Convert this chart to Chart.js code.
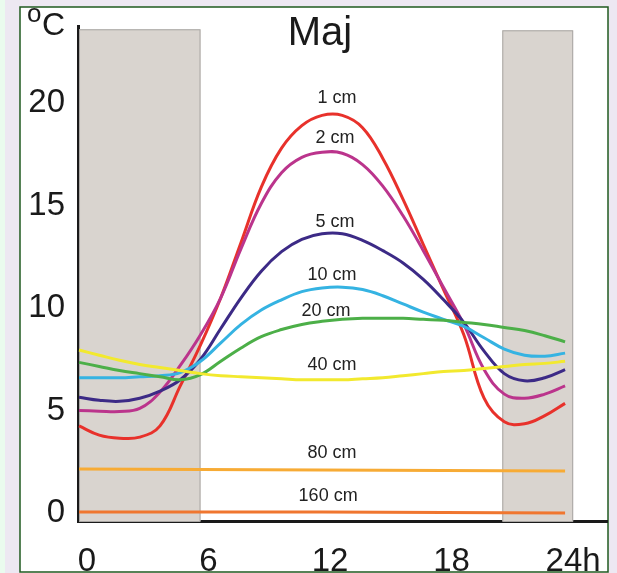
<!DOCTYPE html>
<html><head><meta charset="utf-8">
<script src="https://cdn.jsdelivr.net/npm/chart.js@4"></script>
<style>html,body{margin:0;padding:0;background:#ede8f2;overflow:hidden}canvas{display:block}</style>
</head><body>
<canvas id="c" width="617" height="573"></canvas>
<script>
// ---- data ----
const hours = [0,1,2,3,4,5,6,7,8,9,10,11,12,13,14,15,16,17,18,19,20,21,22,23,24];
const t1cm  = [4.25,3.8,3.65,3.7,4.25,6.2,8.2,10.5,13.2,15.9,17.8,18.9,19.4,19.4,18.8,17.3,15.3,13.1,10.9,8.7,5.6,4.45,4.35,4.75,5.35];
const t2cm  = [5.0,4.97,4.95,5.1,5.9,7.2,8.7,10.5,12.9,15.1,16.6,17.35,17.6,17.55,17.0,15.95,14.5,12.8,11.0,9.2,7.0,5.8,5.6,5.8,6.2];
const t5cm  = [5.65,5.5,5.45,5.6,5.95,6.5,7.5,9.0,10.5,11.8,12.75,13.35,13.62,13.62,13.3,12.8,12.2,11.4,10.4,9.3,7.9,6.8,6.45,6.6,7.0];
const t10cm = [6.6,6.6,6.6,6.65,6.7,6.85,7.4,8.3,9.2,9.9,10.4,10.8,10.98,11.02,10.9,10.6,10.2,9.8,9.45,9.1,8.55,8.0,7.7,7.65,7.8];
const t20cm = [7.35,7.15,6.95,6.8,6.65,6.5,6.75,7.4,8.05,8.6,8.95,9.2,9.35,9.45,9.5,9.5,9.5,9.45,9.4,9.3,9.2,9.05,8.9,8.65,8.35];
const t40cm = [7.95,7.7,7.45,7.25,7.1,6.95,6.8,6.7,6.65,6.6,6.55,6.5,6.5,6.5,6.55,6.6,6.7,6.8,6.9,6.95,7.05,7.15,7.25,7.3,7.4];
const deepHours = [0,12,24];
const t80cm  = [2.15,2.1,2.05];
const t160cm = [0.05,0.05,0.0];
const seriesNames = ['1 cm','2 cm','5 cm','10 cm','20 cm','40 cm','80 cm','160 cm'];
const xTicks = [0,6,12,18,24];
const xTickLabels = ['0','6','12','18','24h'];
const yTicks = [0,5,10,15,20];
const nightStart = [0,20.9];
const nightEnd   = [6,24.4];
const nightTop   = [23.6,23.55];

// ---- styling ----
const colors = ['#e8312b','#bb348c','#3c2a86','#35b3e2','#4caf48','#f2e92e','#f7ab35','#f0762f'];
const labelPos = [[12.74,20.24],[12.64,18.29],[12.64,14.2],[12.49,11.61],[12.2,9.85],[12.49,7.22],[12.49,2.93],[12.3,0.83]];
const FONT = "'Liberation Sans', Arial, sans-serif";

const toXY = (xs, ys) => xs.map((x,i)=>({x, y: ys[i]}));
const allSeries = [
  toXY(hours,t1cm), toXY(hours,t2cm), toXY(hours,t5cm), toXY(hours,t10cm),
  toXY(hours,t20cm), toXY(hours,t40cm), toXY(deepHours,t80cm), toXY(deepHours,t160cm)
];
const order = [7,6,5,4,3,2,1,0];
const datasets = order.map(i => ({
  label: seriesNames[i], data: allSeries[i], borderColor: colors[i],
  borderWidth: 3, pointRadius: 0, tension: 0.4, fill: false
}));

const bgPlugin = {
  id: 'bg',
  beforeDraw(chart) {
    const ctx = chart.ctx;
    ctx.save();
    ctx.fillStyle = '#ede8f2'; ctx.fillRect(0,0,617,573);
    ctx.fillStyle = '#eafbee'; ctx.fillRect(0,0,5,573);
    ctx.fillStyle = '#ffffff'; ctx.fillRect(20,7,588,570);
    ctx.strokeStyle = '#1f5a1f'; ctx.lineWidth = 1.5;
    ctx.strokeRect(20,7,588,565);
    ctx.restore();
  },
  beforeDatasetsDraw(chart) {
    const {ctx, scales:{x,y}} = chart;
    ctx.save();
    for (let i=0;i<nightStart.length;i++){
      const x0 = x.getPixelForValue(nightStart[i]), x1 = x.getPixelForValue(nightEnd[i]);
      const y0 = y.getPixelForValue(nightTop[i]), y1 = chart.chartArea.bottom;
      ctx.fillStyle = '#d9d4cf'; ctx.fillRect(x0,y0,x1-x0,y1-y0);
      ctx.strokeStyle = '#a9a6a3'; ctx.lineWidth = 1;
      ctx.strokeRect(x0+0.5,y0+0.5,x1-x0-1,y1-y0);
    }
    ctx.restore();
  },
  afterDraw(chart) {
    const {ctx, scales:{x,y}} = chart;
    ctx.save();
    ctx.fillStyle = '#1a1a1a';
    ctx.textBaseline = 'alphabetic';
    ctx.textAlign = 'center';
    ctx.font = '40px ' + FONT;
    ctx.fillText('Maj', 320, 45);
    ctx.textAlign = 'left';
    ctx.font = '26px ' + FONT;
    ctx.fillText('o', 27, 22);
    ctx.font = '32px ' + FONT;
    ctx.fillText('C', 42, 35);
    ctx.font = '18px ' + FONT;
    ctx.textAlign = 'center';
    ctx.textBaseline = 'middle';
    ctx.fillStyle = '#222';
    seriesNames.forEach((n,i)=>{
      ctx.fillText(n, x.getPixelForValue(labelPos[i][0]), y.getPixelForValue(labelPos[i][1]));
    });
    ctx.restore();
  }
};

new Chart(document.getElementById('c'), {
  type: 'line',
  data: { datasets },
  plugins: [bgPlugin],
  options: {
    responsive: false, animation: false, devicePixelRatio: 1,
    layout: { padding: { left: 0, right: 10, top: 26, bottom: 0 } },
    plugins: { legend: { display: false }, tooltip: { enabled: false }, title: { display: false } },
    scales: {
      x: {
        type: 'linear', min: -0.05, max: 26.07,
        grid: { display: false, drawTicks: false, tickLength: 0 },
        border: { display: true, color: '#1a1a1a', width: 3 },
        afterBuildTicks: s => { s.ticks = xTicks.map(v => ({ value: v })); },
        afterFit: s => { s.height = 52; s.paddingLeft = 0; s.paddingRight = 0; },
        ticks: { autoSkip: false, maxRotation: 0, labelOffset: 8, padding: 21, color: '#1a1a1a',
                 font: { size: 33, family: FONT },
                 callback: (v) => xTickLabels[xTicks.indexOf(v)] }
      },
      y: {
        type: 'linear', min: -0.39, max: 23.76,
        grid: { display: false, drawTicks: false, tickLength: 0 },
        border: { display: true, color: '#1a1a1a', width: 3 },
        afterBuildTicks: s => { s.ticks = yTicks.map(v => ({ value: v })); },
        afterFit: s => { s.width = 78; s.paddingTop = 0; s.paddingBottom = 0; },
        ticks: { padding: 13, color: '#1a1a1a', font: { size: 33, family: FONT },
                 callback: v => String(v) }
      }
    }
  }
});
</script>
</body></html>
